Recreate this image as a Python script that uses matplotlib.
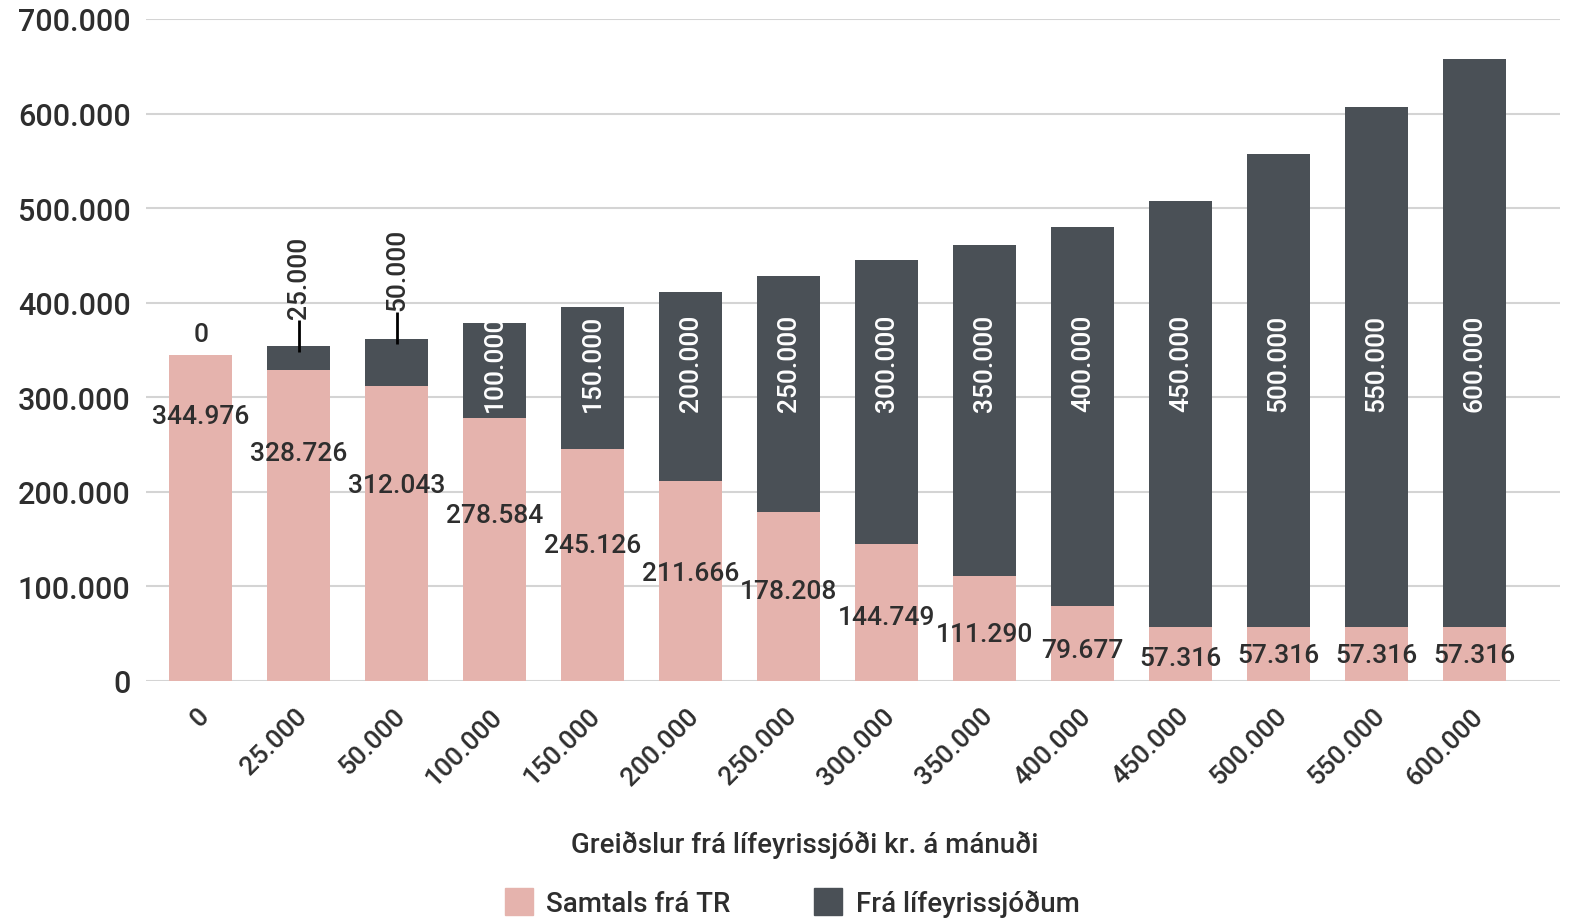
import matplotlib
matplotlib.use('Agg')
import matplotlib.pyplot as plt
from matplotlib.ticker import FuncFormatter
from matplotlib.patches import Patch

# greiðslur frá lífeyrissjóði (x-ás)
categories = ['0', '25.000', '50.000', '100.000', '150.000', '200.000', '250.000',
              '300.000', '350.000', '400.000', '450.000', '500.000', '550.000', '600.000']
fra_lifeyrissjodum = [0, 25000, 50000, 100000, 150000, 200000, 250000,
                      300000, 350000, 400000, 450000, 500000, 550000, 600000]
samtals_fra_tr = [344976, 328726, 312043, 278584, 245126, 211666, 178208,
                  144749, 111290, 79677, 57316, 57316, 57316, 57316]

# staðsetning merkja fyrir TR tölur (eins og í fyrirmynd)
tr_label_y = [280000, 241000, 207000, 176000, 144000, 114000, 95000,
              68000, 50000, 33000, 24000, 27000, 27000, 27000]

PINK = '#e5b3ad'
DARK = '#4a5056'
TXT = '#2e2e2e'
GRID = '#d4d4d4'

plt.rcParams['font.family'] = ['Roboto', 'DejaVu Sans']
plt.rcParams['font.weight'] = 'medium'

fig = plt.figure(figsize=(15.78, 9.2), dpi=100)
ax = fig.add_axes([0.0925, 0.2587, 0.8961, 0.7196])

x = list(range(len(categories)))
w = 0.64
ax.bar(x, samtals_fra_tr, width=w, color=PINK, zorder=2)
ax.bar(x, fra_lifeyrissjodum, width=w, bottom=samtals_fra_tr, color=DARK, zorder=2)

def fmt(v):
    return f'{int(v):,}'.replace(',', '.')

for i in x:
    tr = samtals_fra_tr[i]
    lf = fra_lifeyrissjodum[i]
    total = tr + lf
    ax.text(i, tr_label_y[i], fmt(tr), ha='center', va='center', fontsize=19, color=TXT, zorder=4)
    if lf == 0:
        ax.text(i, total + 22000, '0', ha='center', va='center', fontsize=19, color=TXT, zorder=4)
    elif lf < 100000:
        ax.vlines(i, total - 6000, total + 28000, color='black', lw=2, zorder=4)
        ax.text(i, total + 30000, fmt(lf), rotation=90, ha='center', va='bottom',
                fontsize=19, color=TXT, zorder=4)
    else:
        ax.text(i, 285000, fmt(lf), rotation=90, ha='center', va='bottom',
                fontsize=19, color='white', zorder=4)

ax.set_ylim(0, 700000)
ax.set_xlim(-0.56, 13.87)
ax.set_yticks(range(0, 700001, 100000))
ax.yaxis.set_major_formatter(FuncFormatter(lambda v, p: fmt(v)))
ax.grid(axis='y', color=GRID, lw=1.5, zorder=0)
ax.set_axisbelow(True)
for s in ax.spines.values():
    s.set_visible(False)
ax.tick_params(axis='y', length=0, pad=11, labelsize=22, labelcolor=TXT)

# x-ás merki, snúin 45 gráður
ax.set_xticks(x)
ax.set_xticklabels([])
ax.tick_params(axis='x', length=0)
for i, lab in enumerate(categories):
    ax.annotate(lab, xy=(i, 0), xycoords=('data', 'axes fraction'),
                xytext=(-3, -16), textcoords='offset points',
                rotation=45, ha='right', va='top', rotation_mode='anchor',
                fontsize=19, color=TXT, annotation_clip=False)

fig.text(0.51, 0.082, 'Greiðslur frá lífeyrissjóði kr. á mánuði', ha='center', va='center',
         fontsize=20, color=TXT)

handles = [Patch(color=PINK, label='Samtals frá TR'), Patch(color=DARK, label='Frá lífeyrissjóðum')]
fig.legend(handles=handles, loc='center', bbox_to_anchor=(0.502, 0.018), ncol=2, frameon=False,
           fontsize=20, handlelength=1.0, handleheight=1.1, columnspacing=3.0, handletextpad=0.5,
           labelcolor=TXT)

fig.savefig('out.png', dpi=100)
